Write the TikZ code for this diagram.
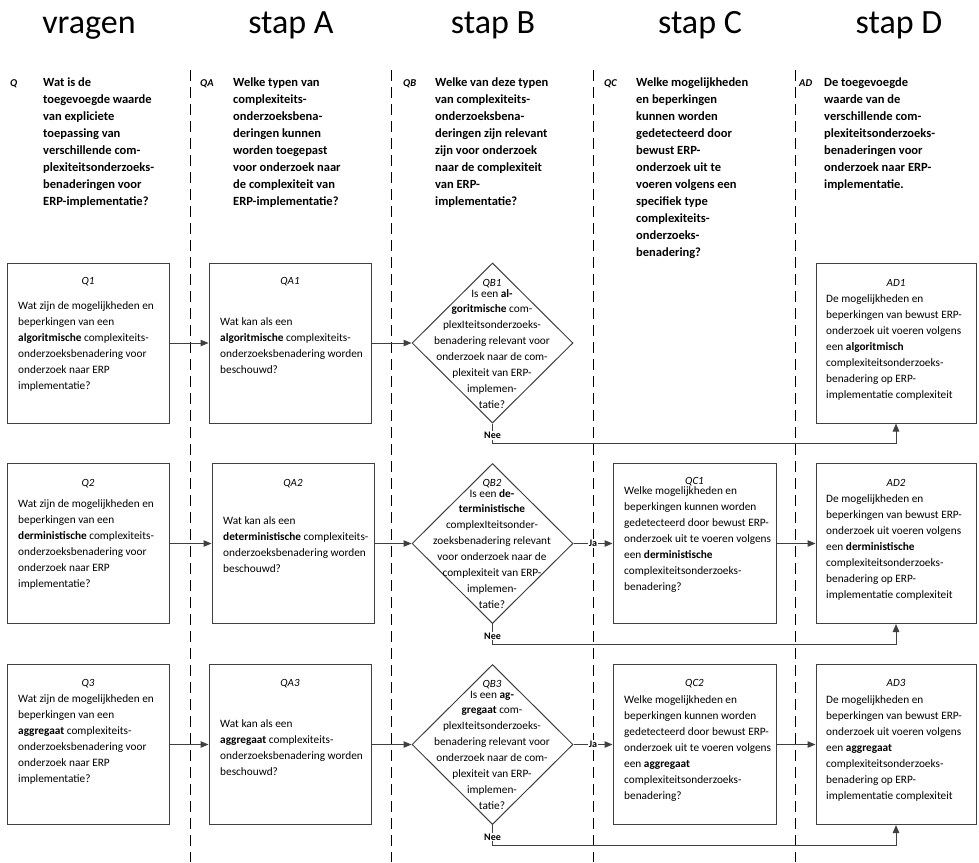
\documentclass[tikz,border=0pt]{standalone}
\usepackage{fontspec}
\setmainfont{Carlito}
\usetikzlibrary{arrows.meta,shapes.geometric}

\definecolor{edge}{HTML}{404040}

% text blocks: the first line's baseline is the node's base
\newcommand{\boxtext}[1]{\parbox[t]{160pt}{\raggedright\fontsize{11.3}{16}\selectfont #1}}
\newcommand{\diatext}[1]{\parbox[t]{170pt}{\centering\fontsize{11.3}{15.9}\selectfont #1}}
\newcommand{\headtext}[1]{\parbox[t]{170pt}{\raggedright\bfseries\fontsize{12.5}{17}\selectfont #1}}

\tikzset{
  box/.style={draw=edge, line width=1pt, minimum width=162pt, minimum height=160pt, inner sep=0pt},
  dia/.style={diamond, draw=edge, line width=1pt, minimum width=161pt, minimum height=160pt, inner sep=0pt},
  conn/.style={draw=edge, line width=1pt, -{Triangle[length=8pt,width=6.5pt]}},
  sep/.style={black, line width=0.9pt, dash pattern=on 11pt off 6pt},
  title/.style={anchor=base, font=\fontsize{34}{40}\selectfont, inner sep=0pt},
  hlab/.style={anchor=base west, font=\bfseries\itshape\fontsize{10.5}{12}\selectfont, inner sep=0pt},
  htext/.style={anchor=base west, inner sep=0pt},
  blab/.style={anchor=base, font=\itshape\fontsize{11}{13}\selectfont, inner sep=0pt},
  btext/.style={anchor=base west, inner sep=0pt},
  dtext/.style={anchor=base, inner sep=0pt},
  tag/.style={font=\bfseries\fontsize{10}{12}\selectfont, fill=white, inner sep=0.8pt},
}

\begin{document}
\begin{tikzpicture}[x=1pt, y=-1pt]
\useasboundingbox (0,0) rectangle (979,862);

% column titles
\node[title] (t0) at (89,33) {vragen};
\node[title] (t1) at (291,33) {stap A};
\node[title] (t2) at (493,33) {stap B};
\node[title] (t3) at (700,33) {stap C};
\node[title] (t4) at (899,33) {stap D};

% column separators
\foreach \x/\n in {190/s1, 391.5/s2, 593/s3, 795/s4} {
  \coordinate (\n top) at (\x,70);
  \coordinate (\n bot) at (\x,862);
  \draw[sep] (\n top) -- (\n bot);
}

% main questions per column
\node[hlab] (hq0) at (10,86) {Q};
\node[htext] (hx0) at (43,86) {\headtext{Wat is de\\toegevoegde waarde\\van expliciete\\toepassing van\\verschillende com-\\plexiteitsonderzoeks-\\benaderingen voor\\ERP-implementatie?}};
\node[hlab] (hq1) at (200,86) {QA};
\node[htext] (hx1) at (233,86) {\headtext{Welke typen van\\complexiteits-\\onderzoeksbena-\\deringen kunnen\\worden toegepast\\voor onderzoek naar\\de complexiteit van\\ERP-implementatie?}};
\node[hlab] (hq2) at (403,86) {QB};
\node[htext] (hx2) at (435,86) {\headtext{Welke van deze typen\\van complexiteits-\\onderzoeksbena-\\deringen zijn relevant\\zijn voor onderzoek\\naar de complexiteit\\van ERP-\\implementatie?}};
\node[hlab] (hq3) at (604,86) {QC};
\node[htext] (hx3) at (636,86) {\headtext{Welke mogelijkheden\\en beperkingen\\kunnen worden\\gedetecteerd door\\bewust ERP-\\onderzoek uit te\\voeren volgens een\\specifiek type\\complexiteits-\\onderzoeks-\\benadering?}};
\node[hlab] (hq4) at (799,86) {AD};
\node[htext] (hx4) at (824,86) {\headtext{De toegevoegde\\waarde van de\\verschillende com-\\plexiteitsonderzoeks-\\benaderingen voor\\onderzoek naar ERP-\\implementatie.}};

% ---- row 1: algoritmisch
\node[box] (Q1) at (88,343) {};
\node[box] (QA1) at (290,343) {};
\node[dia] (QB1) at (492.5,343) {};
\node[box, minimum width=160pt] (AD1) at (896,343) {};

\node[blab] (Q1l) at (88,284) {Q1};
\node[btext] (Q1t) at (18,309) {\boxtext{Wat zijn de mogelijkheden en\\beperkingen van een\\\textbf{algoritmische} complexiteits-\\onderzoeksbenadering voor\\onderzoek naar ERP\\implementatie?}};
\node[blab] (QA1l) at (290,284) {QA1};
\node[btext] (QA1t) at (220,325) {\boxtext{Wat kan als een\\\textbf{algoritmische} complexiteits-\\onderzoeksbenadering worden\\beschouwd?}};
\node[blab] (QB1l) at (492,286) {QB1};
\node[dtext] (QB1t) at (492,297) {\diatext{Is een \textbf{al-}\\\textbf{goritmische} com-\\plexIteitsonderzoeks-\\benadering relevant voor\\onderzoek naar de com-\\plexiteit van ERP-\\implemen-\\tatie?}};
\node[blab] (AD1l) at (896,286) {AD1};
\node[btext] (AD1t) at (826,302) {\boxtext{De mogelijkheden en\\beperkingen van bewust ERP-\\onderzoek uit voeren volgens\\een \textbf{algoritmisch}\\complexiteitsonderzoeks-\\benadering op ERP-\\implementatie complexiteit}};

% ---- row 2: deterministisch
\node[box] (Q2) at (88,543.5) {};
\node[box] (QA2) at (293,543.5) {};
\node[dia] (QB2) at (492.5,543.5) {};
\node[box, minimum width=163pt] (QC1) at (694.5,543.5) {};
\node[box, minimum width=160pt] (AD2) at (896,543.5) {};

\node[blab] (Q2l) at (88,486) {Q2};
\node[btext] (Q2t) at (18,507) {\boxtext{Wat zijn de mogelijkheden en\\beperkingen van een\\\textbf{derministische} complexiteits-\\onderzoeksbenadering voor\\onderzoek naar ERP\\implementatie?}};
\node[blab] (QA2l) at (293,486) {QA2};
\node[btext] (QA2t) at (223,524) {\boxtext{Wat kan als een\\\textbf{deterministische} complexiteits-\\onderzoeksbenadering worden\\beschouwd?}};
\node[blab] (QB2l) at (492,486) {QB2};
\node[dtext] (QB2t) at (492,497) {\diatext{Is een \textbf{de-}\\\textbf{terministische}\\complexIteitsonder-\\zoeksbenadering relevant\\voor onderzoek naar de\\complexiteit van ERP-\\implemen-\\tatie?}};
\node[blab] (QC1l) at (694.5,484) {QC1};
\node[btext] (QC1t) at (624,494) {\boxtext{Welke mogelijkheden en\\beperkingen kunnen worden\\gedetecteerd door bewust ERP-\\onderzoek uit te voeren volgens\\een \textbf{derministische}\\complexiteitsonderzoeks-\\benadering?}};
\node[blab] (AD2l) at (896,486) {AD2};
\node[btext] (AD2t) at (826,502) {\boxtext{De mogelijkheden en\\beperkingen van bewust ERP-\\onderzoek uit voeren volgens\\een \textbf{derministische}\\complexiteitsonderzoeks-\\benadering op ERP-\\implementatie complexiteit}};

% ---- row 3: aggregaat
\node[box] (Q3) at (88,744.5) {};
\node[box] (QA3) at (290,744.5) {};
\node[dia] (QB3) at (492.5,744.5) {};
\node[box, minimum width=163pt] (QC2) at (694.5,744.5) {};
\node[box, minimum width=160pt] (AD3) at (896,744.5) {};

\node[blab] (Q3l) at (88,686) {Q3};
\node[btext] (Q3t) at (18,702) {\boxtext{Wat zijn de mogelijkheden en\\beperkingen van een\\\textbf{aggregaat} complexiteits-\\onderzoeksbenadering voor\\onderzoek naar ERP\\implementatie?}};
\node[blab] (QA3l) at (290,686) {QA3};
\node[btext] (QA3t) at (220,727) {\boxtext{Wat kan als een\\\textbf{aggregaat} complexiteits-\\onderzoeksbenadering worden\\beschouwd?}};
\node[blab] (QB3l) at (492,687) {QB3};
\node[dtext] (QB3t) at (492,698) {\diatext{Is een \textbf{ag-}\\\textbf{gregaat} com-\\plexIteitsonderzoeks-\\benadering relevant voor\\onderzoek naar de com-\\plexiteit van ERP-\\implemen-\\tatie?}};
\node[blab] (QC2l) at (694.5,686) {QC2};
\node[btext] (QC2t) at (624,703) {\boxtext{Welke mogelijkheden en\\beperkingen kunnen worden\\gedetecteerd door bewust ERP-\\onderzoek uit te voeren volgens\\een \textbf{aggregaat}\\complexiteitsonderzoeks-\\benadering?}};
\node[blab] (AD3l) at (896,686) {AD3};
\node[btext] (AD3t) at (826,703) {\boxtext{De mogelijkheden en\\beperkingen van bewust ERP-\\onderzoek uit voeren volgens\\een \textbf{aggregaat}\\complexiteitsonderzoeks-\\benadering op ERP-\\implementatie complexiteit}};

% ---- connectors
\draw[conn] (Q1.east) -- (QA1.west);
\draw[conn] (QA1.east) -- (QB1.west);
\draw[conn] (QB1.south) -- node[tag, pos=0.6] (nee1) {Nee} ++(0,20) -| (AD1.south);

\draw[conn] (Q2.east) -- (QA2.west);
\draw[conn] (QA2.east) -- (QB2.west);
\draw[conn] (QB2.east) -- node[tag] (ja1) {Ja} (QC1.west);
\draw[conn] (QC1.east) -- (AD2.west);
\draw[conn] (QB2.south) -- node[tag, pos=0.6] (nee2) {Nee} ++(0,20) -| (AD2.south);

\draw[conn] (Q3.east) -- (QA3.west);
\draw[conn] (QA3.east) -- (QB3.west);
\draw[conn] (QB3.east) -- node[tag] (ja2) {Ja} (QC2.west);
\draw[conn] (QC2.east) -- (AD3.west);
\draw[conn] (QB3.south) -- node[tag, pos=0.6] (nee3) {Nee} ++(0,20) -| (AD3.south);
\end{tikzpicture}
\end{document}
